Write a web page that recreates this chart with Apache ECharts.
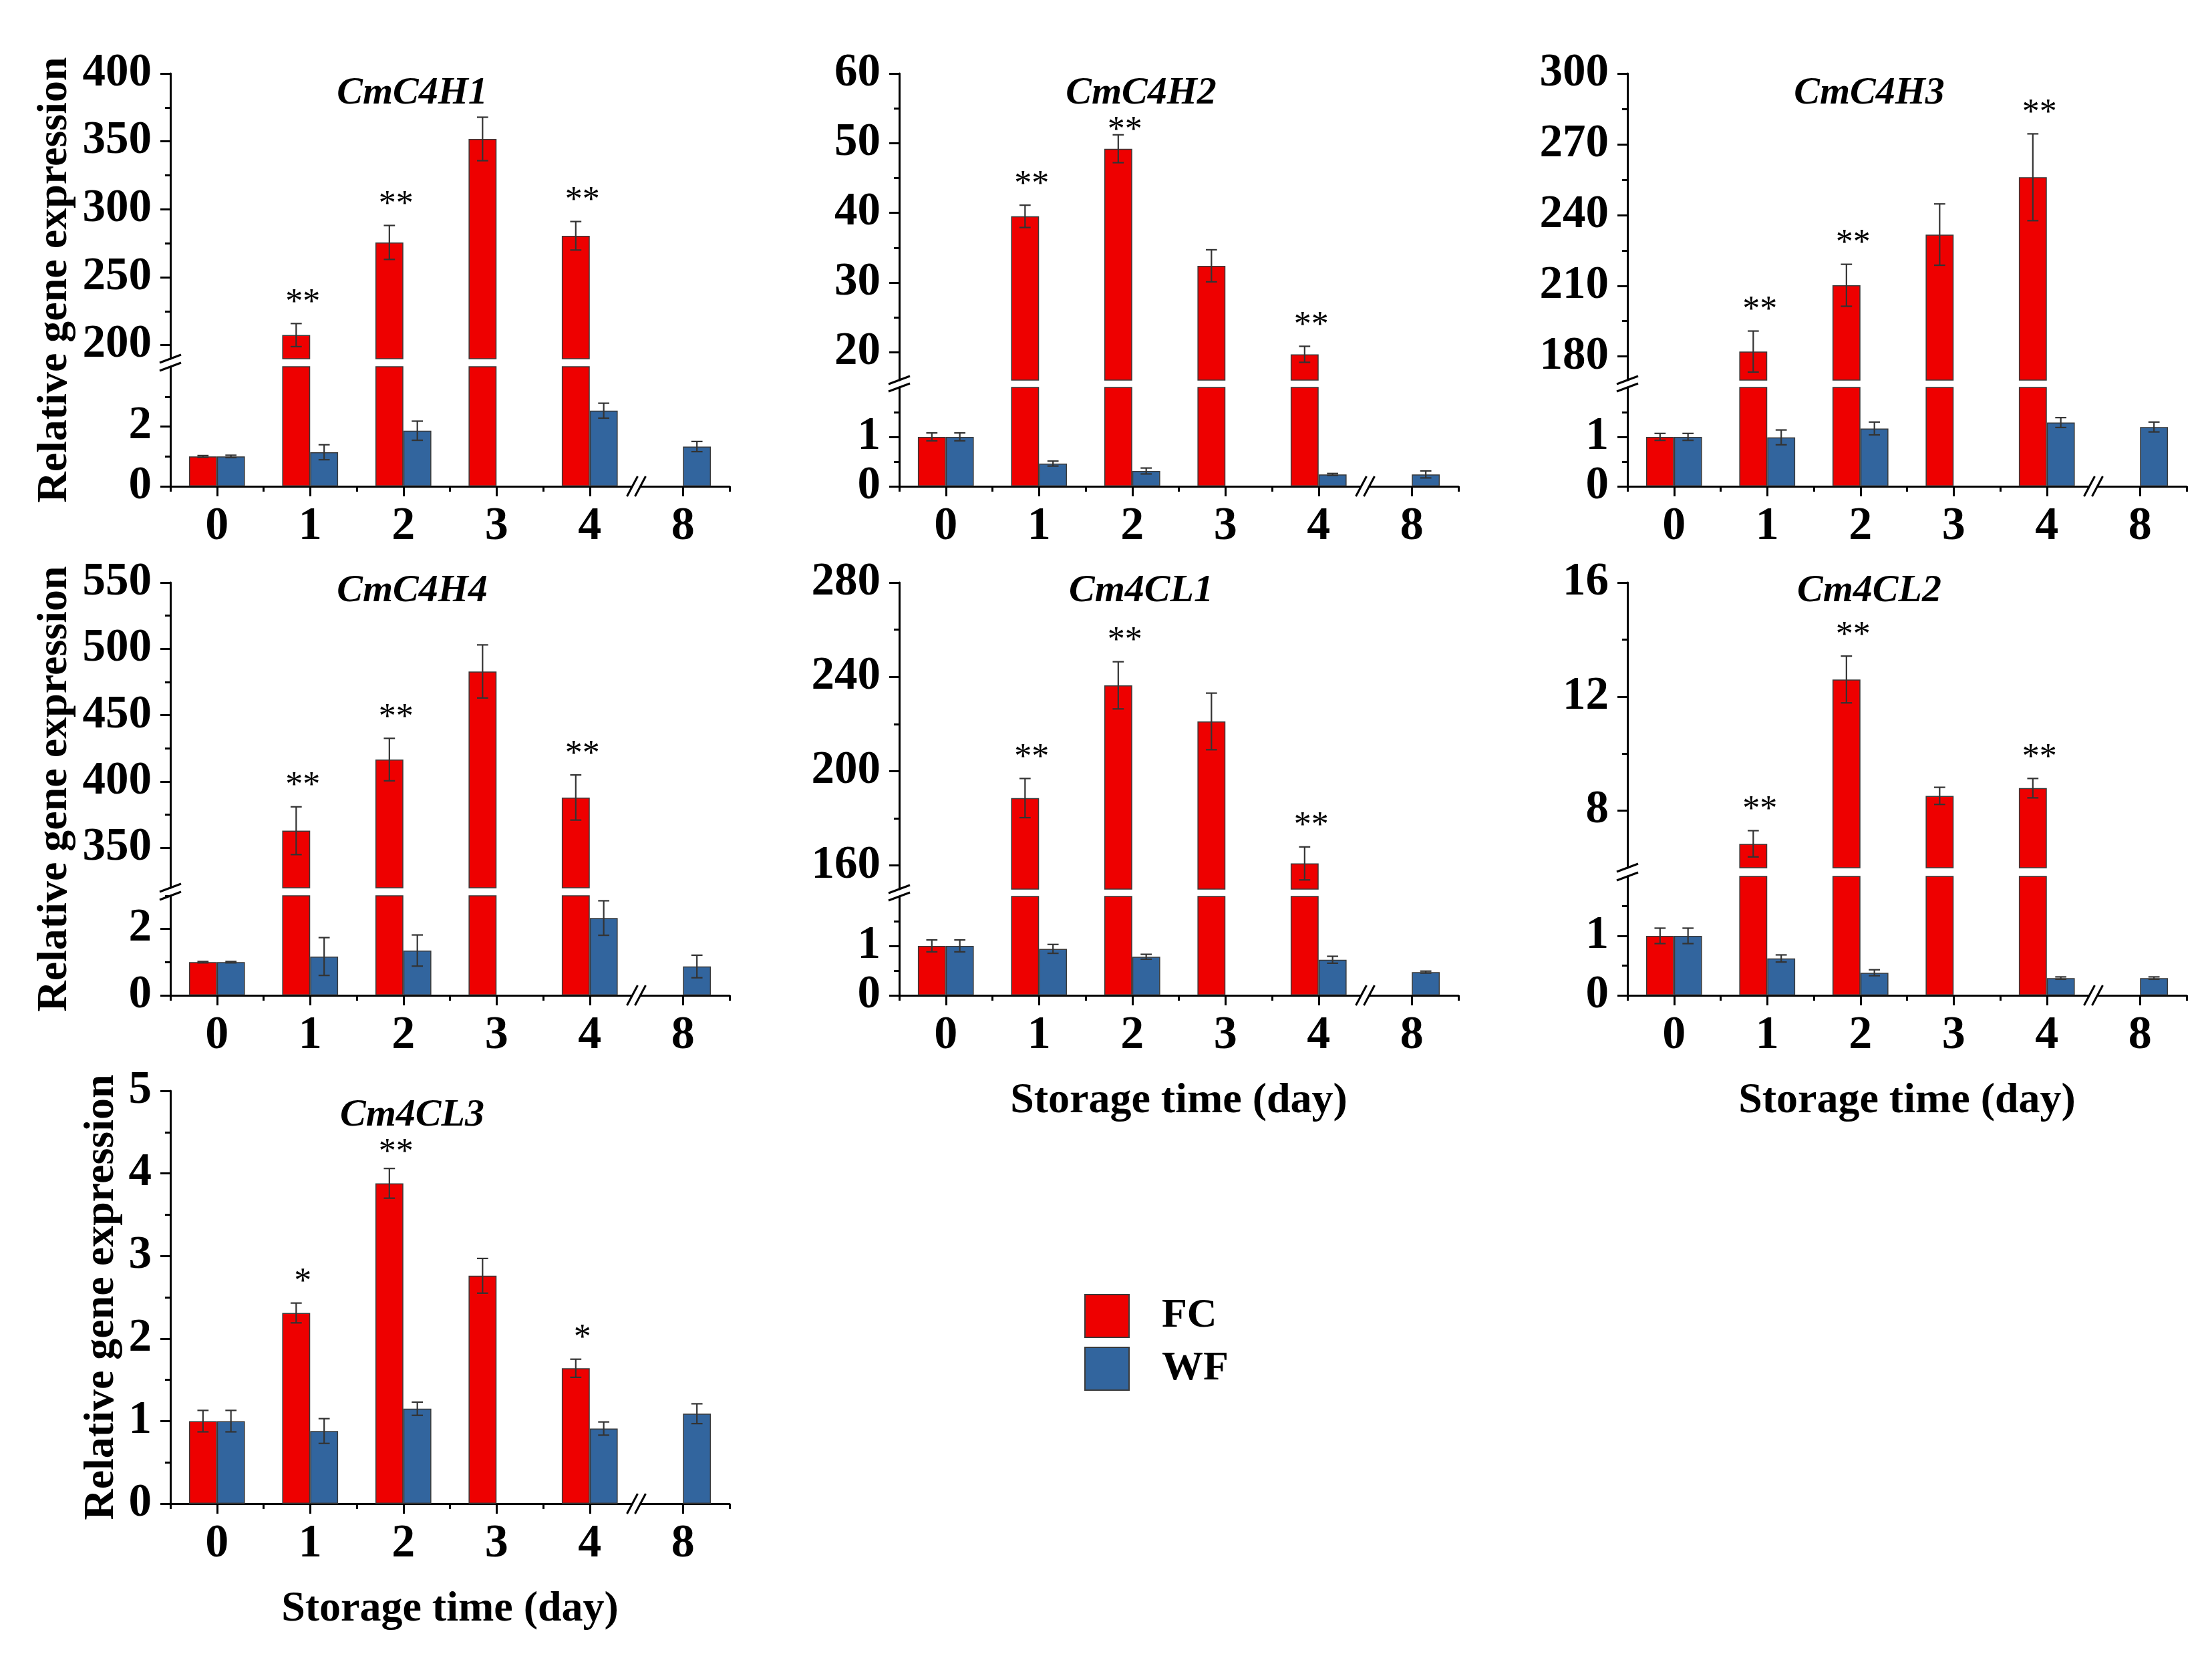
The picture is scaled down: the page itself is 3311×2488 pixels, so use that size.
<!DOCTYPE html>
<html><head><meta charset="utf-8">
<script src="https://cdn.jsdelivr.net/npm/echarts@6/dist/echarts.min.js"></script>
<style>html,body{margin:0;padding:0;background:#fff}#c{width:3311px;height:2488px}</style>
</head><body><div id="c"></div><script>
// ---------------- data ----------------
const days = ['0', '1', '2', '3', '4', '8'];
const seriesNames = ['FC', 'WF'];
const yTitle = 'Relative gene expression';
const xTitle = 'Storage time (day)';

const c4h1FC   = [1.00, 207.4, 275.6, 351.8, 280.5, null];
const c4h1FCsd = [0.03, 8.5, 12.5, 16.0, 10.5, null];
const c4h1WF   = [1.00, 1.14, 1.86, null, 2.53, 1.33];
const c4h1WFsd = [0.04, 0.25, 0.32, null, 0.25, 0.17];
const c4h1Sig  = ['', '**', '**', '', '**', ''];

const c4h2FC   = [1.00, 39.5, 49.2, 32.4, 19.7, null];
const c4h2FCsd = [0.08, 1.6, 2.0, 2.3, 1.15, null];
const c4h2WF   = [1.00, 0.46, 0.31, null, 0.24, 0.24];
const c4h2WFsd = [0.08, 0.05, 0.06, null, 0.02, 0.07];
const c4h2Sig  = ['', '**', '**', '', '**', ''];

const c4h3FC   = [1.00, 182.1, 210.2, 231.7, 256.0, null];
const c4h3FCsd = [0.07, 8.7, 8.9, 13.0, 18.4, null];
const c4h3WF   = [1.00, 0.99, 1.17, null, 1.29, 1.20];
const c4h3WFsd = [0.07, 0.15, 0.13, null, 0.10, 0.10];
const c4h3Sig  = ['', '**', '**', '', '**', ''];

const c4h4FC   = [1.00, 363.0, 416.6, 483.0, 388.0, null];
const c4h4FCsd = [0.02, 18, 16, 20, 17, null];
const c4h4WF   = [1.00, 1.17, 1.35, null, 2.33, 0.87];
const c4h4WFsd = [0.02, 0.57, 0.47, null, 0.52, 0.34];
const c4h4Sig  = ['', '**', '**', '', '**', ''];

const cl1FC   = [1.00, 188.6, 236.4, 221.1, 160.9, null];
const cl1FCsd = [0.12, 8.3, 10, 12, 7, null];
const cl1WF   = [1.00, 0.94, 0.78, null, 0.72, 0.47];
const cl1WFsd = [0.12, 0.09, 0.05, null, 0.07, 0.02];
const cl1Sig  = ['', '**', '**', '', '**', ''];

const cl2FC   = [1.00, 6.84, 12.6, 8.52, 8.79, null];
const cl2FCsd = [0.13, 0.46, 0.82, 0.30, 0.34, null];
const cl2WF   = [1.00, 0.62, 0.38, null, 0.29, 0.29];
const cl2WFsd = [0.13, 0.06, 0.05, null, 0.02, 0.02];
const cl2Sig  = ['', '**', '**', '', '**', ''];

const cl3FC   = [1.00, 2.31, 3.88, 2.76, 1.64, null];
const cl3FCsd = [0.13, 0.12, 0.18, 0.21, 0.11, null];
const cl3WF   = [1.00, 0.88, 1.15, null, 0.91, 1.09];
const cl3WFsd = [0.13, 0.15, 0.08, null, 0.08, 0.12];
const cl3Sig  = ['', '*', '**', '', '*', ''];

// axis ranges and tick labels (upper / lower segment of broken axes)
const c4h1UpRange = [190, 400], c4h1UpTicks = [200, 250, 300, 350, 400], c4h1UpMinor = [225, 275, 325, 375];
const c4h1LoRange = [0, 4],     c4h1LoTicks = [0, 2],                   c4h1LoMinor = [1, 3];
const c4h2UpRange = [16, 60],   c4h2UpTicks = [20, 30, 40, 50, 60],     c4h2UpMinor = [25, 35, 45, 55];
const c4h2LoRange = [0, 2],     c4h2LoTicks = [0, 1],                   c4h2LoMinor = [0.5, 1.5];
const c4h3UpRange = [170, 300], c4h3UpTicks = [180, 210, 240, 270, 300], c4h3UpMinor = [195, 225, 255, 285];
const c4h3LoRange = [0, 2],     c4h3LoTicks = [0, 1],                   c4h3LoMinor = [0.5, 1.5];
const c4h4UpRange = [320, 550], c4h4UpTicks = [350, 400, 450, 500, 550], c4h4UpMinor = [375, 425, 475, 525];
const c4h4LoRange = [0, 3],     c4h4LoTicks = [0, 2],                   c4h4LoMinor = [1, 3];
const cl1UpRange = [150, 280],  cl1UpTicks = [160, 200, 240, 280],      cl1UpMinor = [180, 220, 260];
const cl1LoRange = [0, 2],      cl1LoTicks = [0, 1],                    cl1LoMinor = [0.5, 1.5];
const cl2UpRange = [6, 16],     cl2UpTicks = [8, 12, 16],               cl2UpMinor = [10, 14];
const cl2LoRange = [0, 2],      cl2LoTicks = [0, 1],                    cl2LoMinor = [0.5, 1.5];
const cl3Range = [0, 5],        cl3Ticks = [0, 1, 2, 3, 4, 5],          cl3Minor = [0.5, 1.5, 2.5, 3.5, 4.5];

// ---------------- layout / style ----------------
const FONT = '"Liberation Serif","Times New Roman",serif';
const RED = '#EE0000', BLUE = '#32659E', EDGE = '#3a3a3a', ERR = '#333333';
const colLeft = [255, 1346, 2436], rowTop = [110, 872, 1633];
const PW = 837, PH = 618;
const titleOff = [30, 13, 37];
const yTitleX = [82, 82, 152];
const TITLE_DX = 362;

const panels = [
  {gene: 'CmC4H1', fc: c4h1FC, fcSd: c4h1FCsd, wf: c4h1WF, wfSd: c4h1WFsd, sig: c4h1Sig,
   up: {range: c4h1UpRange, ticks: c4h1UpTicks, minor: c4h1UpMinor}, lo: {range: c4h1LoRange, ticks: c4h1LoTicks, minor: c4h1LoMinor},
   col: 0, row: 0, split: [427, 439], xName: false, yName: true},
  {gene: 'CmC4H2', fc: c4h2FC, fcSd: c4h2FCsd, wf: c4h2WF, wfSd: c4h2WFsd, sig: c4h2Sig,
   up: {range: c4h2UpRange, ticks: c4h2UpTicks, minor: c4h2UpMinor}, lo: {range: c4h2LoRange, ticks: c4h2LoTicks, minor: c4h2LoMinor},
   col: 1, row: 0, split: [459, 470], xName: false, yName: false},
  {gene: 'CmC4H3', fc: c4h3FC, fcSd: c4h3FCsd, wf: c4h3WF, wfSd: c4h3WFsd, sig: c4h3Sig,
   up: {range: c4h3UpRange, ticks: c4h3UpTicks, minor: c4h3UpMinor}, lo: {range: c4h3LoRange, ticks: c4h3LoTicks, minor: c4h3LoMinor},
   col: 2, row: 0, split: [459, 470], xName: false, yName: false},
  {gene: 'CmC4H4', fc: c4h4FC, fcSd: c4h4FCsd, wf: c4h4WF, wfSd: c4h4WFsd, sig: c4h4Sig,
   up: {range: c4h4UpRange, ticks: c4h4UpTicks, minor: c4h4UpMinor}, lo: {range: c4h4LoRange, ticks: c4h4LoTicks, minor: c4h4LoMinor},
   col: 0, row: 1, split: [457, 469], xName: false, yName: true},
  {gene: 'Cm4CL1', fc: cl1FC, fcSd: cl1FCsd, wf: cl1WF, wfSd: cl1WFsd, sig: cl1Sig,
   up: {range: cl1UpRange, ticks: cl1UpTicks, minor: cl1UpMinor}, lo: {range: cl1LoRange, ticks: cl1LoTicks, minor: cl1LoMinor},
   col: 1, row: 1, split: [459, 470], xName: true, yName: false},
  {gene: 'Cm4CL2', fc: cl2FC, fcSd: cl2FCsd, wf: cl2WF, wfSd: cl2WFsd, sig: cl2Sig,
   up: {range: cl2UpRange, ticks: cl2UpTicks, minor: cl2UpMinor}, lo: {range: cl2LoRange, ticks: cl2LoTicks, minor: cl2LoMinor},
   col: 2, row: 1, split: [427, 440], xName: true, yName: false},
  {gene: 'Cm4CL3', fc: cl3FC, fcSd: cl3FCsd, wf: cl3WF, wfSd: cl3WFsd, sig: cl3Sig,
   up: null, lo: {range: cl3Range, ticks: cl3Ticks, minor: cl3Minor},
   col: 0, row: 2, split: null, xName: true, yName: true}
];

const grids = [], xAxes = [], yAxes = [], series = [], graphics = [];
const lineSt = {color: '#000', width: 3};

function mainX(gi, withName) {
  const ax = {
    type: 'category', gridIndex: gi, data: days, position: 'bottom',
    axisLine: {show: true, onZero: false, lineStyle: lineSt},
    axisTick: {show: true, alignWithLabel: true, interval: 0, length: 15, lineStyle: lineSt},
    axisLabel: {interval: 0, fontSize: 70, fontWeight: 'bold', fontFamily: FONT, color: '#000', margin: 26},
    splitLine: {show: false}
  };
  if (withName) {
    ax.name = xTitle; ax.nameLocation = 'middle'; ax.nameGap = 126;
    ax.nameTextStyle = {fontSize: 64, fontWeight: 'bold', fontFamily: FONT, color: '#000'};
  }
  return ax;
}
function boundX(gi) {
  return {type: 'category', gridIndex: gi, data: days, position: 'bottom',
    axisLine: {show: false}, axisTick: {show: true, interval: 0, length: 8, lineStyle: lineSt},
    axisLabel: {show: false}, splitLine: {show: false}};
}
function majorY(gi, seg) {
  return {type: 'value', gridIndex: gi, min: seg.range[0], max: seg.range[1], position: 'left', offset: 0,
    axisLine: {show: true, lineStyle: lineSt},
    axisTick: {show: true, length: 15, customValues: seg.ticks, lineStyle: lineSt},
    axisLabel: {customValues: seg.ticks, fontSize: 69, fontWeight: 'bold', fontFamily: FONT, color: '#000', margin: 28},
    splitLine: {show: false}};
}
function minorY(gi, seg) {
  return {type: 'value', gridIndex: gi, min: seg.range[0], max: seg.range[1], position: 'left', offset: 0,
    axisLine: {show: false},
    axisTick: {show: true, length: 8, customValues: seg.minor, lineStyle: lineSt},
    axisLabel: {show: false}, splitLine: {show: false}};
}
function bar(name, xi, yi, data, color) {
  return {type: 'bar', name: name, xAxisIndex: xi, yAxisIndex: yi, data: data,
    barWidth: '30%', barGap: '0%', clip: true, silent: true,
    itemStyle: {color: color, borderColor: EDGE, borderWidth: 1.5}};
}
function errSeries(xi, yi, p) {
  const items = [];
  p.fc.forEach((v, i) => { if (v != null) items.push([i, v, p.fcSd[i], -1]); });
  p.wf.forEach((v, i) => { if (v != null) items.push([i, v, p.wfSd[i], 1]); });
  return {type: 'custom', xAxisIndex: xi, yAxisIndex: yi, clip: true, silent: true, z: 5, data: items,
    renderItem(params, api) {
      const c = api.value(0), m = api.value(1), s = api.value(2), side = api.value(3);
      const band = api.size([1, 0])[0];
      const x = api.coord([c, m])[0] + side * band * 0.15;
      const yt = api.coord([c, m + s])[1], yb = api.coord([c, m - s])[1];
      const cap = band * 0.06;
      const st = {stroke: ERR, lineWidth: 2.2};
      return {type: 'group', children: [
        {type: 'line', shape: {x1: x, y1: yt, x2: x, y2: yb}, style: st},
        {type: 'line', shape: {x1: x - cap, y1: yt, x2: x + cap, y2: yt}, style: st},
        {type: 'line', shape: {x1: x - cap, y1: yb, x2: x + cap, y2: yb}, style: st}
      ]};
    }};
}
// stars sit above the error bar; they are kept below the panel title when they would run into it
function starSeries(xi, yi, p, titleX, titleY) {
  const items = [], texts = [];
  p.sig.forEach((s, i) => { if (s && p.fc[i] != null) { items.push([i, p.fc[i] + p.fcSd[i]]); texts.push(s); } });
  return {type: 'custom', xAxisIndex: xi, yAxisIndex: yi, clip: false, silent: true, z: 6, data: items,
    renderItem(params, api) {
      const band = api.size([1, 0])[0];
      const pt = api.coord([api.value(0), api.value(1)]);
      const x = pt[0] - band * 0.15 + 10;
      let y = pt[1] - 30;
      if (Math.abs(x - titleX) < 150) y = Math.max(y, titleY + 56);
      return {type: 'text', x: x, y: y,
        style: {text: texts[params.dataIndex], fontSize: 52, fontFamily: FONT, fill: '#000', align: 'center', verticalAlign: 'middle'}};
    }};
}
function yBreak(xi, yi, val) {
  return {type: 'custom', xAxisIndex: xi, yAxisIndex: yi, clip: false, silent: true, z: 6, data: [[0, val]],
    renderItem(params, api) {
      const band = api.size([1, 0])[0];
      const pt = api.coord([0, api.value(1)]);
      const x = pt[0] - band / 2, y = pt[1];
      return {type: 'line', shape: {x1: x - 16, y1: y + 6, x2: x + 16, y2: y - 6}, style: {stroke: '#000', lineWidth: 3}};
    }};
}
function xBreak(xi, yi, val) {
  return {type: 'custom', xAxisIndex: xi, yAxisIndex: yi, clip: false, silent: true, z: 6, data: [[4, val]],
    renderItem(params, api) {
      const band = api.size([1, 0])[0];
      const pt = api.coord([4, api.value(1)]);
      const x = pt[0] + band / 2, y = pt[1];
      const st = {stroke: '#000', lineWidth: 3};
      return {type: 'group', children: [
        {type: 'rect', shape: {x: x - 6, y: y - 5, width: 12, height: 16}, style: {fill: '#fff'}},
        {type: 'line', shape: {x1: x - 14, y1: y + 15, x2: x + 2, y2: y - 15}, style: st},
        {type: 'line', shape: {x1: x - 2, y1: y + 15, x2: x + 14, y2: y - 15}, style: st}
      ]};
    }};
}

panels.forEach(p => {
  const L = colLeft[p.col], T = rowTop[p.row];
  const titleX = L + TITLE_DX, titleY = T + titleOff[p.row];
  const loTop = p.up ? T + p.split[1] : T;
  const gLo = grids.length;
  grids.push({left: L, top: loTop, width: PW, height: T + PH - loTop});
  const xLo = xAxes.length;
  xAxes.push(mainX(gLo, p.xName), boundX(gLo));
  const yLo = yAxes.length;
  yAxes.push(majorY(gLo, p.lo), minorY(gLo, p.lo));
  series.push(bar(seriesNames[0], xLo, yLo, p.fc, RED), bar(seriesNames[1], xLo, yLo, p.wf, BLUE));
  series.push(errSeries(xLo, yLo, p));
  series.push(xBreak(xLo, yLo, p.lo.range[0]));
  if (p.up) {
    const gUp = grids.length;
    grids.push({left: L, top: T, width: PW, height: p.split[0]});
    const xUp = xAxes.length;
    xAxes.push({type: 'category', gridIndex: gUp, data: days, show: false});
    const yUp = yAxes.length;
    yAxes.push(majorY(gUp, p.up), minorY(gUp, p.up));
    series.push(bar(seriesNames[0], xUp, yUp, p.fc, RED), bar(seriesNames[1], xUp, yUp, p.wf, BLUE));
    series.push(errSeries(xUp, yUp, p));
    series.push(starSeries(xUp, yUp, p, titleX, titleY));
    series.push(yBreak(xUp, yUp, p.up.range[0]));
    series.push(yBreak(xLo, yLo, p.lo.range[1]));
  } else {
    series.push(starSeries(xLo, yLo, p, titleX, titleY));
  }
  graphics.push({type: 'text', x: titleX, y: titleY, silent: true,
    style: {text: p.gene, fontSize: 58, fontStyle: 'italic', fontWeight: 'bold', fontFamily: FONT, fill: '#000', align: 'center', verticalAlign: 'middle'}});
  if (p.yName) {
    graphics.push({type: 'text', x: yTitleX[p.row], y: T + PH / 2, rotation: Math.PI / 2, silent: true,
      style: {text: yTitle, fontSize: 64, fontWeight: 'bold', fontFamily: FONT, fill: '#000', align: 'center', verticalAlign: 'middle'}});
  }
});

const chart = echarts.init(document.getElementById('c'), null, {renderer: 'canvas'});
chart.setOption({
  backgroundColor: '#fff',
  animation: false,
  grid: grids,
  xAxis: xAxes,
  yAxis: yAxes,
  series: series,
  legend: {data: seriesNames, orient: 'vertical', left: 1618, top: 1932, itemWidth: 66, itemHeight: 64, itemGap: 13,
    icon: 'rect', selectedMode: false,
    textStyle: {fontSize: 62, fontWeight: 'bold', fontFamily: FONT, color: '#000', padding: [0, 0, 0, 44]}},
  graphic: graphics
});
</script></body></html>
